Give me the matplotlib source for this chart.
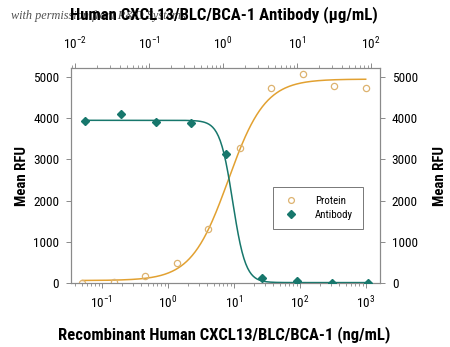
import numpy as np
import matplotlib
matplotlib.use("Agg")
import matplotlib.pyplot as plt
from matplotlib import font_manager
from matplotlib.ticker import LogLocator, NullFormatter, FixedLocator

# ---- data ----
protein_conc = [0.051, 0.152, 0.457, 1.37, 4.12, 12.3, 37.0, 111, 333, 1000]   # ng/mL
protein_rfu = [10, 20, 160, 490, 1320, 3270, 4730, 5070, 4790, 4730]
antibody_conc = [0.0137, 0.0412, 0.123, 0.370, 1.11, 3.33, 10.0, 30.0, 90.0]   # ug/mL
antibody_rfu = [3940, 4110, 3910, 3890, 3120, 120, 40, 10, 10]
yticks = [0, 1000, 2000, 3000, 4000, 5000]

# 4PL fit parameters
prot_fit = dict(bottom=60, top=4950, ec50=8.3, hill=1.55)
ab_fit = dict(bottom=10, top=3950, ec50=1.35, hill=-5.0)

def four_pl(x, bottom, top, ec50, hill):
    x = np.asarray(x, dtype=float)
    return bottom + (top - bottom) / (1 + (ec50 / x) ** hill)

ORANGE = "#E2A131"
ORANGE_PT = "#DDB370"
TEAL = "#17776C"
AXC = "#8a8a8a"

installed = {f.name for f in font_manager.fontManager.ttflist}
cands = ["Roboto Condensed", "Liberation Sans Narrow", "Open Sans Condensed",
         "Lato", "Roboto", "Liberation Sans"]
main = next(c for c in cands if c in installed)
FONT = [main, "DejaVu Sans"]
plt.rcParams["font.family"] = FONT
plt.rcParams["mathtext.fontset"] = "custom"
plt.rcParams["mathtext.rm"] = main
plt.rcParams["mathtext.it"] = main
plt.rcParams["mathtext.default"] = "regular"

fig = plt.figure(figsize=(4.5, 3.47), dpi=100)
ax = fig.add_axes([71/450, 1-283/347, (380-71)/450, (283-68)/347])
ax2 = ax.twiny()

# protein on bottom axis
xs = np.logspace(np.log10(protein_conc[0]), np.log10(protein_conc[-1]), 300)
ax.plot(xs, four_pl(xs, **prot_fit), color=ORANGE, lw=1.1, zorder=2)
ax.plot(protein_conc, protein_rfu, ls="none", marker="o", ms=4.5, mfc="none",
        mec=ORANGE_PT, mew=0.9, zorder=3)
ax.set_xscale("log")
ax.set_xlim(0.0343, 1648)
ax.set_ylim(0, 5220)
ax.set_yticks(yticks)

# antibody on top axis
xa = np.logspace(np.log10(antibody_conc[0]), np.log10(antibody_conc[-1]), 300)
ax2.plot(xa, four_pl(xa, **ab_fit), color=TEAL, lw=1.1, zorder=2)
ax2.plot(antibody_conc, antibody_rfu, ls="none", marker="D", ms=3.8, mfc=TEAL,
         mec=TEAL, zorder=3)
ax2.set_xscale("log")
ax2.set_xlim(0.00883, 132)

for a in (ax, ax2):
    for s in a.spines.values():
        s.set_color(AXC)
        s.set_linewidth(0.8)

ax.xaxis.set_major_locator(FixedLocator([0.1, 1, 10, 100, 1000]))
ax.xaxis.set_minor_locator(LogLocator(base=10, subs=np.arange(2, 10), numticks=20))
ax.xaxis.set_minor_formatter(NullFormatter())
ax2.xaxis.set_major_locator(FixedLocator([0.01, 0.1, 1, 10, 100]))
ax2.xaxis.set_minor_locator(LogLocator(base=10, subs=np.arange(2, 10), numticks=20))
ax2.xaxis.set_minor_formatter(NullFormatter())

TS = 9.5
ax.tick_params(axis="x", which="major", direction="out", length=3.5, width=0.7,
               color=AXC, labelsize=TS, pad=5)
ax.tick_params(axis="x", which="minor", direction="out", length=2, width=0.6, color=AXC)
ax2.tick_params(axis="x", which="major", direction="out", length=3.5, width=0.7,
                color=AXC, labelsize=TS, pad=8)
ax2.tick_params(axis="x", which="minor", direction="out", length=2, width=0.6, color=AXC)
ax.tick_params(axis="y", which="both", direction="out", length=3.5, width=0.7,
               color=AXC, labelsize=TS, pad=5, left=True, right=True,
               labelleft=True, labelright=True)

t_top = fig.text(224/450, 1-15/347, "Human CXCL13/BLC/BCA-1 Antibody (\u03bcg/mL)",
                 ha="center", va="center", fontsize=12, fontweight="bold", zorder=3)
t_bot = fig.text(224/450, 1-335/347, "Recombinant Human CXCL13/BLC/BCA-1 (ng/mL)",
                 ha="center", va="center", fontsize=12, fontweight="bold")
yl1 = fig.text(22/450, 1-176/347, "Mean RFU", rotation=90, ha="center", va="center",
               fontsize=12, fontweight="bold")
yl2 = fig.text(440/450, 1-176/347, "Mean RFU", rotation=90, ha="center", va="center",
               fontsize=12, fontweight="bold")

# legend
h1 = plt.Line2D([], [], ls="none", marker="o", ms=4.2, mfc="none", mec=ORANGE_PT, mew=0.9)
h2 = plt.Line2D([], [], ls="none", marker="D", ms=3.7, mfc=TEAL, mec=TEAL)
leg = ax2.legend([h1, h2], ["Protein", "Antibody"], loc="upper right",
                 bbox_to_anchor=(0.962, 0.474), fontsize=7.8, frameon=True,
                 fancybox=False, edgecolor="#555555", borderpad=0.9,
                 handletextpad=1.4, labelspacing=0.3, handlelength=1.6)
leg.get_frame().set_linewidth(0.7)

# watermark
wm = fig.text(11/450, 1-16/347, "with permission from R&D Systems", fontsize=7.5,
              family=["Liberation Serif", "DejaVu Serif"], style="italic",
              color="#333333", alpha=0.85, va="center", ha="left", zorder=1)

# fit text widths to the reference
fig.canvas.draw()
r = fig.canvas.get_renderer()
for t, target in ((t_top, 308), (t_bot, 332), (wm, 174)):
    w = t.get_window_extent(r).width
    t.set_fontsize(t.get_fontsize() * target / w)
for t in (yl1, yl2):
    h = t.get_window_extent(r).height
    t.set_fontsize(t.get_fontsize() * 60 / h)

fig.savefig("out.png", dpi=100)
